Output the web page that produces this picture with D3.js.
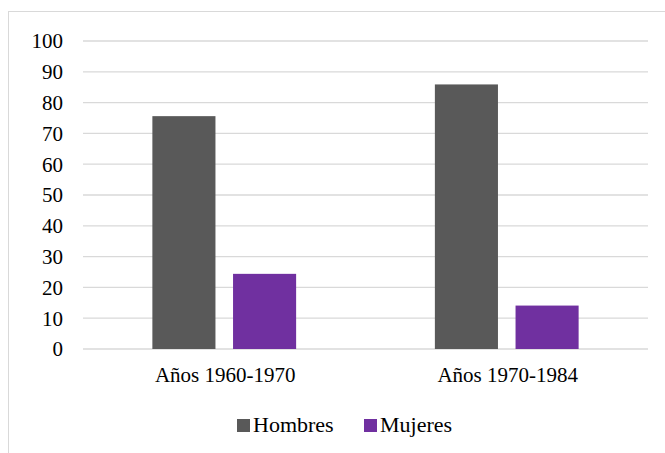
<!DOCTYPE html>
<html>
<head>
<meta charset="utf-8">
<script src="https://cdn.jsdelivr.net/npm/d3@7"></script>
<style>
  body { margin: 0; background: #fff; }
</style>
</head>
<body>
<div id="chart"></div>
<script>
// data
var categories = ["Años 1960-1970", "Años 1970-1984"];
var seriesNames = ["Hombres", "Mujeres"];
var hombres = [75.6, 85.9];
var mujeres = [24.4, 14.1];
var yTicks = [0, 10, 20, 30, 40, 50, 60, 70, 80, 90, 100];
var colors = ["#595959", "#7030a0"];

var width = 665, height = 453;
var serif = "'Liberation Serif', Tinos, 'Times New Roman', Times, 'DejaVu Serif', serif";
// plot edges (window.top is read-only, so no "top" here)
var plotLeft = 83, plotRight = 648, plotTop = 41, plotBottom = 349;

var svg = d3.select('#chart').append('svg')
  .attr('width', width)
  .attr('height', height)
  .attr('font-family', serif);

// chart area border
svg.append('rect')
  .attr('x', 8.5).attr('y', 11.5)
  .attr('width', 700).attr('height', 500)
  .attr('fill', 'none')
  .attr('stroke', '#d9d9d9');

var y = d3.scaleLinear().domain([0, 100]).range([plotBottom, plotTop]);
var x0 = d3.scaleBand().domain(categories).range([plotLeft, plotRight]);
var x1 = d3.scaleBand().domain(seriesNames)
  .range([0, x0.bandwidth()])
  .paddingInner(0.218)
  .paddingOuter(0.86);

// gridlines
svg.selectAll('.grid').data(yTicks).enter().append('line')
  .attr('x1', plotLeft).attr('x2', plotRight)
  .attr('y1', function(d) { return y(d); })
  .attr('y2', function(d) { return y(d); })
  .attr('stroke', '#d9d9d9')
  .attr('stroke-width', 1.3);

// y tick labels
svg.selectAll('.ytick').data(yTicks).enter().append('text')
  .attr('x', 63)
  .attr('y', function(d) { return y(d); })
  .attr('dy', '0.35em')
  .attr('text-anchor', 'end')
  .attr('font-family', serif)
  .attr('font-size', 21)
  .text(function(d) { return d; });

// bars
var rows = categories.map(function(c, i) {
  return { cat: c, vals: [hombres[i], mujeres[i]] };
});

var groups = svg.selectAll('.grp').data(rows).enter().append('g')
  .attr('transform', function(d) { return 'translate(' + x0(d.cat) + ',0)'; });

groups.selectAll('rect').data(function(d) {
    return d.vals.map(function(v, j) { return { name: seriesNames[j], v: v, j: j }; });
  }).enter().append('rect')
  .attr('x', function(d) { return x1(d.name); })
  .attr('width', x1.bandwidth())
  .attr('y', function(d) { return y(d.v); })
  .attr('height', function(d) { return y(0) - y(d.v); })
  .attr('fill', function(d) { return colors[d.j]; });

// category labels
svg.selectAll('.xlab').data(categories).enter().append('text')
  .attr('x', function(d) { return x0(d) + x0.bandwidth() / 2 + 1; })
  .attr('y', 382)
  .attr('text-anchor', 'middle')
  .attr('font-family', serif)
  .attr('font-size', 21)
  .text(function(d) { return d; });

// legend
var legendX = [237, 364];
var leg = svg.selectAll('.leg').data(seriesNames).enter().append('g')
  .attr('transform', function(d, i) { return 'translate(' + legendX[i] + ',0)'; });
leg.append('rect')
  .attr('x', 0).attr('y', 419)
  .attr('width', 13).attr('height', 13)
  .attr('fill', function(d, i) { return colors[i]; });
leg.append('text')
  .attr('x', 16).attr('y', 432)
  .attr('font-family', serif)
  .attr('font-size', 22)
  .text(function(d) { return d; });
</script>
</body>
</html>
